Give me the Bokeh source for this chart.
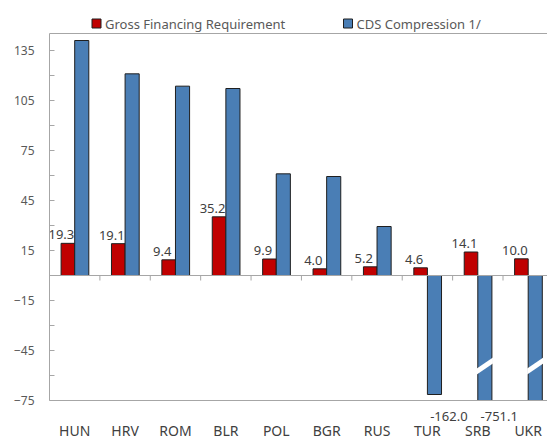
from bokeh.plotting import figure
from bokeh.layouts import column
from bokeh.models import (Range1d, LinearAxis, FixedTicker, ColumnDataSource, Span)
from bokeh.core.properties import value
from bokeh.embed import file_html
from bokeh.resources import INLINE

countries = ["HUN", "HRV", "ROM", "BLR", "POL", "BGR", "RUS", "TUR", "SRB", "UKR"]
gross_financing = [19.3, 19.1, 9.4, 35.2, 9.9, 4.0, 5.2, 4.6, 14.1, 10.0]
cds_compression = [141.0, 121.0, 113.6, 112.2, 61.0, 59.4, 29.4, -71.4, -162.0, -751.1]
series_names = ["Gross Financing Requirement", "CDS Compression 1/"]
y_ticks = [-75, -45, -15, 15, 45, 75, 105, 135]
y_minor = [-60, -30, 0, 30, 60, 90, 120]

FONT = "Noto Sans"
GRAY = "#A6A6A6"
TXT = "#595959"
RED = "#C00000"
BLUE = "#4A7EB5"
EDGE = "#1F1F1F"

Y0, Y1 = -75, 145.2
X0, X1 = -0.5, 9.383
W = 547
LEG_H = 32
H = 444 - LEG_H
LEFT, TOP, BOTTOM = 49, 1, 44
px_per_unit = (H - TOP - BOTTOM) / (Y1 - Y0)
px_per_cat = (W - LEFT) / (X1 - X0)

# ---------- legend strip (frame aligned with the main chart's frame) ----------
lg = figure(width=W, height=LEG_H, output_backend="svg", toolbar_location=None,
            x_range=Range1d(LEFT, W), y_range=Range1d(0, LEG_H),
            x_axis_location=None, y_axis_location=None,
            min_border=0, min_border_left=LEFT, outline_line_color=None)
lg.grid.visible = False
sw_x = [96, 347.5]
sw_y = LEG_H - 23
lg.rect(x=sw_x, y=[sw_y] * 2, width=9, height=9, width_units="screen",
        height_units="screen", fill_color=[RED, BLUE], line_color=EDGE, line_width=1)
lg.text(x=[s + 8.5 for s in sw_x], y=[sw_y] * 2, text=series_names,
        text_baseline="middle", text_align="left", text_font=value(FONT),
        text_font_size="13px", text_color=TXT)

# ---------- main chart ----------
p = figure(width=W, height=H, output_backend="svg", toolbar_location=None,
           x_range=Range1d(X0, X1), y_range=Range1d(Y0, Y1),
           min_border_left=LEFT, min_border_right=0, min_border_top=TOP,
           min_border_bottom=BOTTOM, outline_line_color=None)
p.xgrid.grid_line_color = None
p.ygrid.grid_line_color = None

idx = list(range(len(countries)))
red_x = [i - 0.135 for i in idx]
blue_x = [i + 0.14 for i in idx]

src = ColumnDataSource(dict(
    rx=red_x, bx=blue_x, g=gross_financing, c=cds_compression,
    glab=["%.1f" % v for v in gross_financing]))

p.vbar(x="rx", width=0.27, top="g", bottom=0, source=src,
       fill_color=RED, line_color=EDGE, line_width=1)
p.vbar(x="bx", width=0.28, top="c", bottom=0, source=src,
       fill_color=BLUE, line_color=EDGE, line_width=1)

# zero line with category boundary ticks
p.add_layout(Span(location=0, dimension="width", line_color=GRAY, line_width=1))
bnd = [i + 0.5 for i in idx[:-1]]
p.segment(x0=bnd, x1=bnd, y0=[0] * len(bnd), y1=[-5 / px_per_unit] * len(bnd),
          line_color=GRAY, line_width=1)

# break marks for truncated bars
xs, ys = [], []
break_val = -54.3
half_rise = 3.3
thick = 3.6
for i, v in enumerate(cds_compression):
    if v < Y0:
        xl = blue_x[i] - 0.16
        xr = blue_x[i] + 0.16
        xs.append([xl, xr, xr, xl])
        ys.append([break_val - half_rise - thick / 2, break_val + half_rise - thick / 2,
                   break_val + half_rise + thick / 2, break_val - half_rise + thick / 2])
p.patches(xs=xs, ys=ys, fill_color="white", line_color=None)

# data labels for red bars
p.text(x="rx", y="g", text="glab", source=src, x_offset=-6.5, y_offset=-4,
       text_align="center", text_baseline="bottom", text_font=value(FONT),
       text_font_size="13px", text_color="#404040")

# y axis
ya = p.yaxis[0]
ya.ticker = FixedTicker(ticks=y_ticks, minor_ticks=y_minor)
ya.axis_line_color = GRAY
ya.major_tick_line_color = GRAY
ya.minor_tick_line_color = GRAY
ya.major_tick_in = 5
ya.major_tick_out = 0
ya.minor_tick_in = 5
ya.minor_tick_out = 0
ya.major_label_standoff = 15
ya.major_label_text_font = FONT
ya.major_label_text_font_size = "12px"
ya.major_label_text_color = TXT

# first bottom axis: frame border + labels of truncated bars
trunc_ticks, trunc_over = [], {}
for i, v in enumerate(cds_compression):
    if v < Y0:
        t = round(blue_x[i] - 36 / px_per_cat, 3)
        trunc_ticks.append(t)
        trunc_over[t] = "%.1f" % v
xa = p.xaxis[0]
xa.ticker = FixedTicker(ticks=trunc_ticks, minor_ticks=[])
xa.major_label_overrides = trunc_over
xa.axis_line_color = GRAY
xa.major_tick_line_color = None
xa.minor_tick_line_color = None
xa.major_tick_in = 0
xa.major_tick_out = 0
xa.major_label_standoff = 11
xa.major_label_text_font = FONT
xa.major_label_text_font_size = "13px"
xa.major_label_text_color = "#404040"

# second bottom axis: category names
xc = LinearAxis(ticker=FixedTicker(ticks=idx, minor_ticks=[]),
                major_label_overrides={i: c for i, c in enumerate(countries)},
                axis_line_color=None, major_tick_line_color=None,
                minor_tick_line_color=None, major_tick_in=0, major_tick_out=0,
                major_label_standoff=-3, major_label_text_font=FONT,
                major_label_text_font_size="14px", major_label_text_color="#404040")
p.add_layout(xc, "below")

# top border
top_ax = LinearAxis(ticker=FixedTicker(ticks=[]), axis_line_color=GRAY,
                    major_tick_line_color=None, minor_tick_line_color=None,
                    major_tick_in=0, major_tick_out=0, major_label_standoff=0,
                    major_label_text_font_size="0px")
p.add_layout(top_ax, "above")

layout = column(lg, p, spacing=0)
open("out.html", "w").write(file_html(layout, INLINE))
